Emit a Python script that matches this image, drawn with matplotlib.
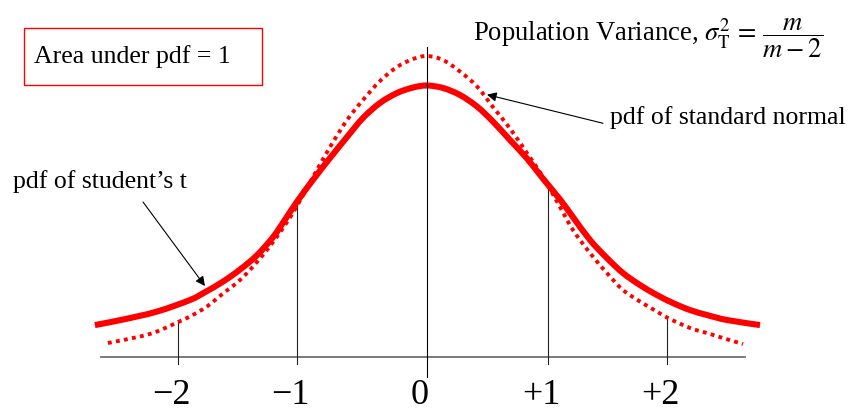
import numpy as np
import matplotlib
matplotlib.use("Agg")
import matplotlib.pyplot as plt
from matplotlib.patches import Rectangle, PathPatch
from matplotlib.path import Path

plt.rcParams["font.family"] = ["Liberation Serif", "DejaVu Serif"]
plt.rcParams["mathtext.fontset"] = "stix"

# Student's t density (solid curve)
t_x = [-2.733, -2.502, -2.222, -1.951, -1.827, -1.679, -1.539, -1.399, -1.267,
       -1.169, -1.070, -0.938, -0.798, -0.658, -0.527, -0.387, -0.247, -0.115,
       0.0, 0.132, 0.272, 0.412, 0.543, 0.683, 0.823, 0.955, 1.095,
       1.202, 1.342, 1.481, 1.613, 1.753, 1.893, 2.025, 2.165, 2.305, 2.469, 2.741]
t_y = [0.0424, 0.0497, 0.0603, 0.0756, 0.0860, 0.1000, 0.1160, 0.1350, 0.1590,
       0.1820, 0.2060, 0.2350, 0.2639, 0.2918, 0.3170, 0.3369, 0.3501, 0.3574,
       0.3601, 0.3568, 0.3475, 0.3322, 0.3123, 0.2878, 0.2633, 0.2365, 0.2090,
       0.1855, 0.1552, 0.1313, 0.1114, 0.0955, 0.0822, 0.0716, 0.0623, 0.0557, 0.0491, 0.0424]

# Standard normal density (dotted curve)
n_x = [-2.626, -2.362, -2.222, -2.049, -1.951, -1.811, -1.679, -1.539, -1.399,
       -1.267, -1.152, -1.070, -0.938, -0.798, -0.658, -0.527, -0.387, -0.247,
       -0.115, 0.0, 0.132, 0.272, 0.412, 0.543, 0.683, 0.823, 0.955, 1.095,
       1.202, 1.342, 1.481, 1.613, 1.753, 1.893, 1.984, 2.165, 2.305, 2.436, 2.601]
n_y = [0.0186, 0.0272, 0.0338, 0.0464, 0.0537, 0.0670, 0.0842, 0.1021, 0.1260,
       0.1525, 0.1790, 0.2003, 0.2387, 0.2785, 0.3143, 0.3408, 0.3660, 0.3846,
       0.3952, 0.3992, 0.3939, 0.3786, 0.3588, 0.3316, 0.3031, 0.2706, 0.2387, 0.1989,
       0.1684, 0.1379, 0.1114, 0.0889, 0.0736, 0.0603, 0.0517, 0.0385, 0.0318, 0.0252, 0.0172]

# Marked positions along the horizontal axis and their labels
mark_pos = [-2.047, -1.070, 0.0, 0.998, 1.979]
mark_labels = ["\u22122", "\u22121", "0", "+1", "+2"]


def smooth_path(xs, ys):
    """Cubic Bezier path passing through every given point (Catmull-Rom tangents)."""
    p = np.column_stack([xs, ys])
    ext = np.vstack([p[0], p, p[-1]])
    verts = [p[0]]
    codes = [Path.MOVETO]
    for i in range(1, len(ext) - 2):
        p0, p1, p2, p3 = ext[i - 1], ext[i], ext[i + 1], ext[i + 2]
        verts += [p1 + (p2 - p0) / 6.0, p2 - (p3 - p1) / 6.0, p2]
        codes += [Path.CURVE4] * 3
    return Path(np.array(verts), codes)


fig = plt.figure(figsize=(8.52, 4.12), dpi=100)
ax = fig.add_axes([0, 0, 1, 1])
ax.set_xlim(-3.514, 3.498)
ax.set_ylim(-0.0729, 0.4735)
ax.axis("off")

red = "#FF0000"

# horizontal base line
ax.plot([-2.683, 2.617], [0, 0], color="#707070", lw=1.3, zorder=1)

# vertical markers
for pos in mark_pos:
    if pos == 0.0:
        ax.plot([0, 0], [-0.0265, 0.411], color="black", lw=0.8, zorder=4)
    else:
        top = np.interp(pos, n_x, n_y)
        ax.plot([pos, pos], [-0.0093, top], color="#222222", lw=0.8, zorder=1)

# curves
ax.add_patch(PathPatch(smooth_path(t_x, t_y), facecolor="none", edgecolor=red,
                       lw=4.4, capstyle="butt", zorder=3))
ax.add_patch(PathPatch(smooth_path(n_x, n_y), facecolor="none", edgecolor=red,
                       lw=2.8, linestyle=(0, (1.0, 1.1)), capstyle="butt", zorder=2))

# tick labels
for pos, lab in zip(mark_pos, mark_labels):
    ax.annotate(lab, xy=(pos, 0), xytext=(-5, -27.5), textcoords="offset points",
                ha="center", va="center", fontsize=26)

# boxed note
ax.add_patch(Rectangle((-3.317, 0.3607), 1.959, 0.0756, fill=False,
                       edgecolor=red, lw=1.0, zorder=5))
ax.text(-3.235, 0.398, "Area under pdf = 1", ha="left", va="center", fontsize=18.5)

# variance formula
ax.text(0.379, 0.4225,
        r"Population Variance, $\sigma_{\mathrm{T}}^{2}\,=\,\dfrac{m}{m-2}$",
        ha="left", va="center", fontsize=19.2)

# labels with arrows
ax.text(1.506, 0.318, "pdf of standard normal", ha="left", va="center", fontsize=18.5)
ax.annotate("", xy=(0.494, 0.348), xytext=(1.449, 0.310),
            arrowprops=dict(arrowstyle="-|>", color="black", lw=0.8,
                            mutation_scale=14, shrinkA=0, shrinkB=0))

ax.text(-3.407, 0.2334, "pdf of student\u2019s t", ha="left", va="center", fontsize=18.5)
ax.annotate("", xy=(-1.827, 0.0942), xytext=(-2.337, 0.2056),
            arrowprops=dict(arrowstyle="-|>", color="black", lw=0.8,
                            mutation_scale=14, shrinkA=0, shrinkB=0))

fig.savefig("out.png", dpi=100)
